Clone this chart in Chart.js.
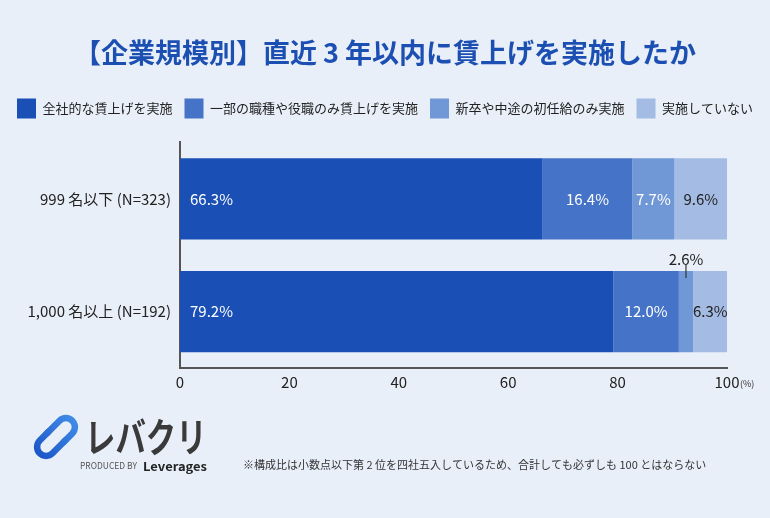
<!DOCTYPE html>
<html lang="ja">
<head>
<meta charset="utf-8">
<script src="https://cdn.jsdelivr.net/npm/chart.js@4.4.1/dist/chart.umd.min.js"></script>
<style>
  html, body { margin: 0; padding: 0; background: #e9eff9; }
  #wrap { width: 770px; height: 518px; }
</style>
</head>
<body>
<div id="wrap"><canvas id="wageChart" width="770" height="518"></canvas></div>
<script>
const categories = ["999 名以下 (N=323)", "1,000 名以上 (N=192)"];
const seriesNames = ["全社的な賃上げを実施", "一部の職種や役職のみ賃上げを実施", "新卒や中途の初任給のみ実施", "実施していない"];
const allCompany = [66.3, 79.2];
const partialOnly = [16.4, 12.0];
const starterOnly = [7.7, 2.6];
const noRaise = [9.6, 6.3];
const xTicks = [0, 20, 40, 60, 80, 100];

const barColors = ["#1a4fb6", "#4473c7", "#7198d6", "#a4bce4"];
const labelColors = ["#ffffff", "#ffffff", "#ffffff", "#222222"];
const FONT = "'Noto Sans CJK JP', 'Noto Sans', sans-serif";

// value labels inside the bars (small ones go above with a leader line)
const barLabels = {
    id: "barLabels",
    afterDatasetsDraw(chart) {
        const ctx = chart.ctx;
        ctx.save();
        ctx.font = "15px " + FONT;
        ctx.textBaseline = "middle";
        chart.data.datasets.forEach((ds, di) => {
            const meta = chart.getDatasetMeta(di);
            meta.data.forEach((bar, i) => {
                const v = ds.data[i];
                const txt = v.toFixed(1) + "%";
                const w = bar.x - bar.base;
                if (w < 25) {
                    const cx = (bar.x + bar.base) / 2;
                    const top = bar.y - bar.height / 2;
                    ctx.strokeStyle = "#333";
                    ctx.lineWidth = 1.2;
                    ctx.beginPath();
                    ctx.moveTo(cx, top - 6);
                    ctx.lineTo(cx, top + 7);
                    ctx.stroke();
                    ctx.fillStyle = "#222";
                    ctx.textAlign = "center";
                    ctx.fillText(txt, cx, top - 12);
                    return;
                }
                ctx.fillStyle = labelColors[di];
                if (di === 0) {
                    ctx.textAlign = "left";
                    ctx.fillText(txt, bar.base + 10, bar.y);
                } else {
                    ctx.textAlign = "center";
                    ctx.fillText(txt, (bar.x + bar.base) / 2, bar.y);
                }
            });
        });
        ctx.restore();
    }
};

// unit mark, logo and footnote
const footer = {
    id: "footer",
    afterDraw(chart) {
        const ctx = chart.ctx;
        const xs = chart.scales.x;
        ctx.save();
        ctx.fillStyle = "#333";
        ctx.font = "9px " + FONT;
        ctx.textAlign = "left";
        ctx.textBaseline = "middle";
        ctx.fillText("(%)", xs.right + 13, xs.bottom - 14);

        // logo icon
        ctx.save();
        ctx.translate(56, 437);
        ctx.rotate(-Math.PI / 4);
        const grad = ctx.createLinearGradient(-24, 0, 24, 0);
        grad.addColorStop(0, "#1d58c8");
        grad.addColorStop(1, "#3f8ae6");
        ctx.strokeStyle = grad;
        ctx.lineWidth = 6.5;
        ctx.lineCap = "round";
        ctx.beginPath();
        ctx.moveTo(-2, -9);
        ctx.lineTo(-14, -9);
        ctx.arc(-14, 0, 9, -Math.PI / 2, Math.PI / 2, true);
        ctx.lineTo(4, 9);
        ctx.stroke();
        ctx.beginPath();
        ctx.moveTo(2, 9);
        ctx.lineTo(14, 9);
        ctx.arc(14, 0, 9, Math.PI / 2, -Math.PI / 2, true);
        ctx.lineTo(-4, -9);
        ctx.stroke();
        ctx.restore();

        ctx.save();
        ctx.fillStyle = "#3a3a3a";
        ctx.font = "bold 40px " + FONT;
        ctx.translate(85, 437);
        ctx.scale(0.76, 1);
        ctx.fillText("レバクリ", 0, 0);
        ctx.restore();

        ctx.fillStyle = "#555";
        ctx.font = "9px " + FONT;
        ctx.save();
        ctx.translate(80, 466);
        ctx.scale(57 / ctx.measureText("PRODUCED BY").width, 1);
        ctx.fillText("PRODUCED BY", 0, 0);
        ctx.restore();
        ctx.fillStyle = "#222";
        ctx.font = "bold 12px " + FONT;
        ctx.save();
        ctx.translate(143, 466);
        ctx.scale(64 / ctx.measureText("Leverages").width, 1);
        ctx.fillText("Leverages", 0, 0);
        ctx.restore();

        ctx.fillStyle = "#333";
        ctx.font = "11px " + FONT;
        ctx.fillText("※構成比は小数点以下第 2 位を四社五入しているため、合計しても必ずしも 100 とはならない", 243, 465);
        ctx.restore();
    }
};

const seriesValues = [allCompany, partialOnly, starterOnly, noRaise];

new Chart(document.getElementById("wageChart"), {
    type: "bar",
    data: {
        labels: categories,
        datasets: seriesNames.map((name, k) => ({
            label: name,
            data: seriesValues[k],
            backgroundColor: barColors[k],
            borderWidth: 0,
            categoryPercentage: 0.72,
            barPercentage: 1
        }))
    },
    options: {
        indexAxis: "y",
        responsive: false,
        animation: false,
        layout: { padding: { top: 0, left: 0, right: 0, bottom: 120 } },
        plugins: {
            title: {
                display: true,
                text: "【企業規模別】直近 3 年以内に賃上げを実施したか",
                color: "#1c4fb2",
                font: { family: FONT, size: 27, weight: "bold" },
                padding: { top: 37, bottom: 17 }
            },
            legend: {
                position: "top",
                labels: {
                    color: "#222",
                    font: { family: FONT, size: 13 },
                    boxWidth: 19,
                    boxHeight: 20,
                    padding: 12
                }
            },
            tooltip: { enabled: false }
        },
        scales: {
            x: {
                stacked: true,
                min: 0,
                max: 100,
                afterBuildTicks: s => { s.ticks = xTicks.map(v => ({ value: v })); },
                afterFit: s => { s.height = 30; },
                grid: { display: false, drawTicks: false },
                border: { color: "#555", width: 2 },
                ticks: { color: "#222", font: { family: FONT, size: 15 }, padding: 5 }
            },
            // empty gap between the legend and the plot
            xTop: {
                type: "linear",
                position: "top",
                afterFit: s => { s.height = 14; },
                grid: { display: false, drawTicks: false },
                border: { display: false },
                ticks: { display: false }
            },
            y: {
                stacked: true,
                afterFit: s => { s.width = 180; },
                grid: { display: false, drawTicks: false },
                border: { color: "#555", width: 2 },
                ticks: { color: "#222", font: { family: FONT, size: 15 }, padding: 9 }
            },
            // empty right-hand margin so the plot ends at 100 like the original
            yRight: {
                type: "linear",
                position: "right",
                afterFit: s => { s.width = 43; },
                grid: { display: false, drawTicks: false },
                border: { display: false },
                ticks: { display: false }
            }
        }
    },
    plugins: [barLabels, footer]
});
</script>
</body>
</html>
